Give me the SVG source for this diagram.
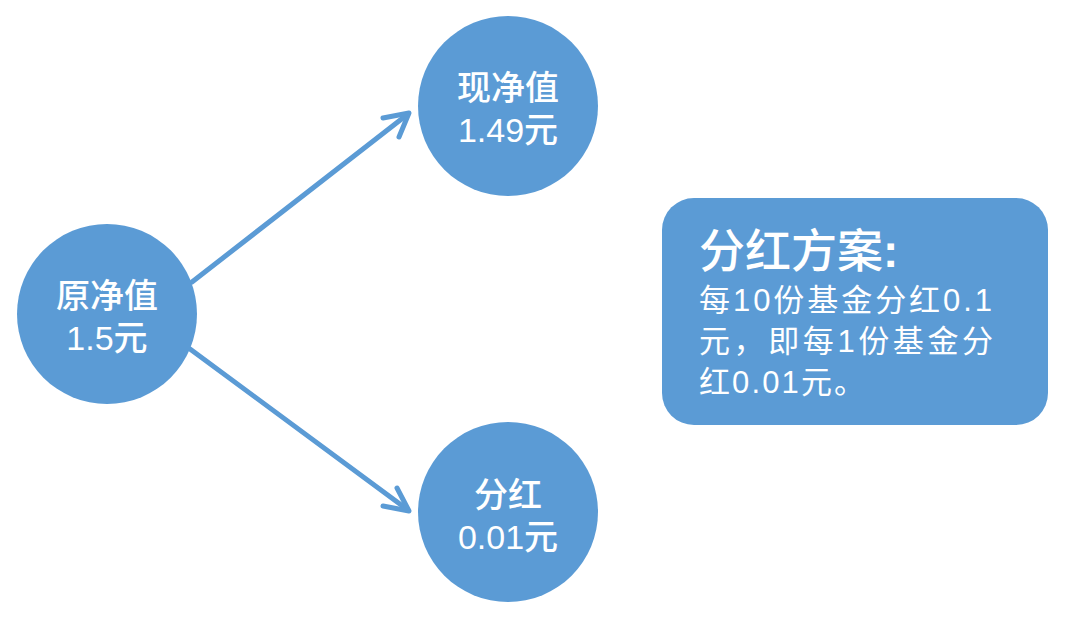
<svg xmlns="http://www.w3.org/2000/svg" width="1080" height="619" viewBox="0 0 1080 619">
<style>
.node{fill:#5B9BD5}
.lbl{fill:#fff;font-family:"Liberation Sans","Noto Sans CJK SC",sans-serif;font-size:34px;font-weight:500;text-anchor:middle}
.title{fill:#fff;font-family:"Liberation Sans","Noto Sans CJK SC",sans-serif;font-size:46px;font-weight:500}
.body{fill:#fff;font-family:"Liberation Sans","Noto Sans CJK SC",sans-serif;font-size:31px}
.edge{stroke:#5B9BD5;stroke-width:5;fill:none;stroke-linecap:round;stroke-linejoin:round}
</style>
<rect width="1080" height="619" fill="#fff"/>
<g id="connectors">
<path class="edge" d="M192,282 L408,114"/>
<path class="edge" d="M383,118 L409,113 L399,137"/>
<path class="edge" d="M190,349 L408,510"/>
<path class="edge" d="M383,506 L409,511 L397,488"/>
</g>
<g id="node-original">
<circle class="node" cx="107" cy="314" r="90"/>
<text class="lbl" x="107" y="308">原净值</text>
<text class="lbl" x="107" y="350">1.5元</text>
</g>
<g id="node-current">
<circle class="node" cx="508" cy="106" r="90"/>
<text class="lbl" x="508" y="100">现净值</text>
<text class="lbl" x="508" y="142">1.49元</text>
</g>
<g id="node-dividend">
<circle class="node" cx="508" cy="512" r="90"/>
<text class="lbl" x="508" y="507">分红</text>
<text class="lbl" x="508" y="549">0.01元</text>
</g>
<g id="node-plan">
<rect class="node" x="662" y="198" width="386" height="227" rx="32" ry="32"/>
<text class="title" x="699" y="267">分红方案<tspan font-weight="bold">:</tspan></text>
<text class="body" x="699" y="311" textLength="293" lengthAdjust="spacing">每10份基金分红0.1</text>
<text class="body" x="699" y="352" textLength="294" lengthAdjust="spacing">元，即每1份基金分</text>
<text class="body" x="699" y="393" textLength="166" lengthAdjust="spacing">红0.01元。</text>
</g>
</svg>
